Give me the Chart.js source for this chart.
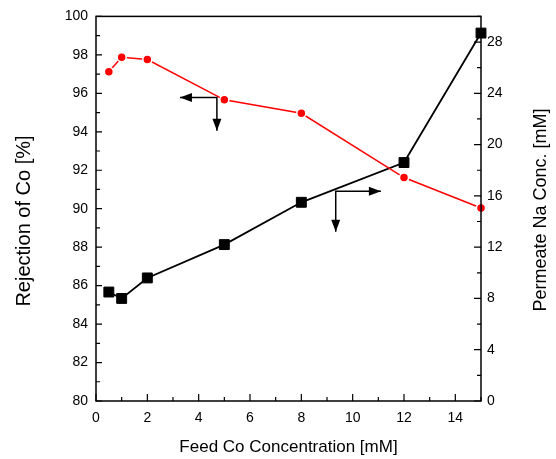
<!DOCTYPE html>
<html>
<head>
<meta charset="utf-8">
<script src="https://cdn.jsdelivr.net/npm/chart.js@4/dist/chart.umd.min.js"></script>
<style>
  html, body { margin: 0; padding: 0; background: #fff; }
  #wrap { width: 556px; height: 459px; }
</style>
</head>
<body>
<div id="wrap"><canvas id="myChart" width="556" height="459"></canvas></div>
<script>
// feed Co concentration [mM]
const feedCo = [0.5, 1, 2, 5, 8, 12, 15];
// rejection of Co [%] (left axis)
const rejection = [97.12, 97.88, 97.76, 95.66, 94.96, 91.62, 90.04];
// permeate Na concentration [mM] (right axis)
const naConc = [8.5, 8.0, 9.6, 12.2, 15.5, 18.6, 28.7];

const xTicks = [0, 2, 4, 6, 8, 10, 12, 14];
const leftTicks = [80, 82, 84, 86, 88, 90, 92, 94, 96, 98, 100];
const rightTicks = [0, 4, 8, 12, 16, 20, 24, 28];

const leftTitle = 'Rejection of Co [%]';
const rightTitle = 'Permeate Na Conc. [mM]';

const font = "Arial, 'Liberation Sans', sans-serif";

// axis indicator arrows: corner, horizontal end, vertical end (data coords, left axis)
const arrows = [
  { x: 4.71, y: 95.78, hx: 3.27, vy: 94.05 },
  { x: 9.34, y: 90.91, hx: 11.1, vy: 88.8 }
];

function setTicks(list) {
  return function (scale) {
    scale.ticks = list.map(v => ({ value: v }));
  };
}

function arrowHead(c, x0, y0, x1, y1) {
  const a = Math.atan2(y1 - y0, x1 - x0);
  const len = 12, w = 4.5;
  c.beginPath();
  c.moveTo(x1, y1);
  c.lineTo(x1 - len * Math.cos(a) + w * Math.sin(a), y1 - len * Math.sin(a) - w * Math.cos(a));
  c.lineTo(x1 - len * Math.cos(a) - w * Math.sin(a), y1 - len * Math.sin(a) + w * Math.cos(a));
  c.closePath();
  c.fill();
}

function vText(c, text, x, y, size) {
  c.save();
  c.translate(x, y);
  c.rotate(-Math.PI / 2);
  c.font = size + 'px ' + font;
  c.fillStyle = '#000';
  c.textAlign = 'center';
  c.textBaseline = 'middle';
  c.fillText(text, 0, 0);
  c.restore();
}

const frame = {
  id: 'frame',
  afterDraw(chart) {
    const c = chart.ctx;
    const a = chart.chartArea;
    const sx = chart.scales.x, sy = chart.scales.y, sy1 = chart.scales.y1;
    c.save();
    c.strokeStyle = '#000';
    c.lineWidth = 1.5;
    c.strokeRect(a.left, a.top, a.right - a.left, a.bottom - a.top);

    c.lineWidth = 1.2;
    c.beginPath();
    for (let v = 0; v <= 15; v++) {
      const px = sx.getPixelForValue(v);
      const l = v % 2 === 0 ? 7 : 4;
      c.moveTo(px, a.bottom);
      c.lineTo(px, a.bottom - l);
    }
    for (let v = 80; v <= 100; v++) {
      const py = sy.getPixelForValue(v);
      const l = v % 2 === 0 ? 6 : 4;
      c.moveTo(a.left, py);
      c.lineTo(a.left + l, py);
    }
    for (let v = 0; v <= 30; v += 2) {
      const py = sy1.getPixelForValue(v);
      const l = v % 4 === 0 ? 7 : 4;
      c.moveTo(a.right, py);
      c.lineTo(a.right - l, py);
    }
    c.stroke();

    c.fillStyle = '#000';
    c.lineWidth = 1.5;
    arrows.forEach(ar => {
      const cx = sx.getPixelForValue(ar.x), cy = sy.getPixelForValue(ar.y);
      const hx = sx.getPixelForValue(ar.hx), vy = sy.getPixelForValue(ar.vy);
      c.beginPath();
      c.moveTo(hx, cy);
      c.lineTo(cx, cy);
      c.lineTo(cx, vy);
      c.stroke();
      arrowHead(c, cx, cy, hx, cy);
      arrowHead(c, cx, cy, cx, vy);
    });
    c.restore();

    // axis titles, both reading bottom to top
    vText(c, leftTitle, 24, 221, 20);
    vText(c, rightTitle, 541, 210, 18);
  }
};

const ctx = document.getElementById('myChart');

const data = {
  labels: feedCo,
  datasets: [{
    label: 'Rejection of Co',
    data: feedCo.map((x, i) => ({ x: x, y: rejection[i] })),
    yAxisID: 'y',
    borderColor: '#ff0000',
    backgroundColor: '#ff0000',
    borderWidth: 1.5,
    pointRadius: 4.5,
    pointBorderColor: '#fff',
    pointBorderWidth: 1.5,
    pointBackgroundColor: '#ff0000',
    clip: false
  }, {
    label: 'Permeate Na',
    data: feedCo.map((x, i) => ({ x: x, y: naConc[i] })),
    yAxisID: 'y1',
    borderColor: '#000',
    backgroundColor: '#000',
    borderWidth: 1.8,
    pointStyle: 'rect',
    pointRadius: 7,
    pointBorderColor: '#000',
    pointBorderWidth: 1,
    pointBackgroundColor: '#000',
    clip: false
  }]
};

const config = {
  type: 'line',
  data: data,
  options: {
    responsive: false,
    animation: false,
    events: [],
    layout: { padding: { top: 15, right: 0, left: 0, bottom: 0 } },
    plugins: { legend: { display: false }, tooltip: { enabled: false } },
    scales: {
      x: {
        type: 'linear',
        min: 0, max: 15,
        afterBuildTicks: setTicks(xTicks),
        afterFit(s) { s.height = 58; },
        grid: { display: false, drawTicks: false },
        border: { display: false },
        ticks: { color: '#000', font: { family: font, size: 14 }, padding: 9, maxRotation: 0 },
        title: { display: true, text: 'Feed Co Concentration [mM]', color: '#000',
                 font: { family: font, size: 17 }, padding: { top: 4, bottom: 1 } }
      },
      y: {
        position: 'left',
        min: 80, max: 100,
        afterBuildTicks: setTicks(leftTicks),
        afterFit(s) { s.width = 96; },
        grid: { display: false, drawTicks: false },
        border: { display: false },
        ticks: { color: '#000', font: { family: font, size: 14 }, padding: 8 }
      },
      y1: {
        position: 'right',
        min: 0, max: 30,
        afterBuildTicks: setTicks(rightTicks),
        afterFit(s) { s.width = 75; },
        grid: { display: false, drawTicks: false },
        border: { display: false },
        ticks: { color: '#000', font: { family: font, size: 14 }, padding: 6 }
      }
    }
  },
  plugins: [frame]
};

const chart = new Chart(ctx, config);
</script>
</body>
</html>
